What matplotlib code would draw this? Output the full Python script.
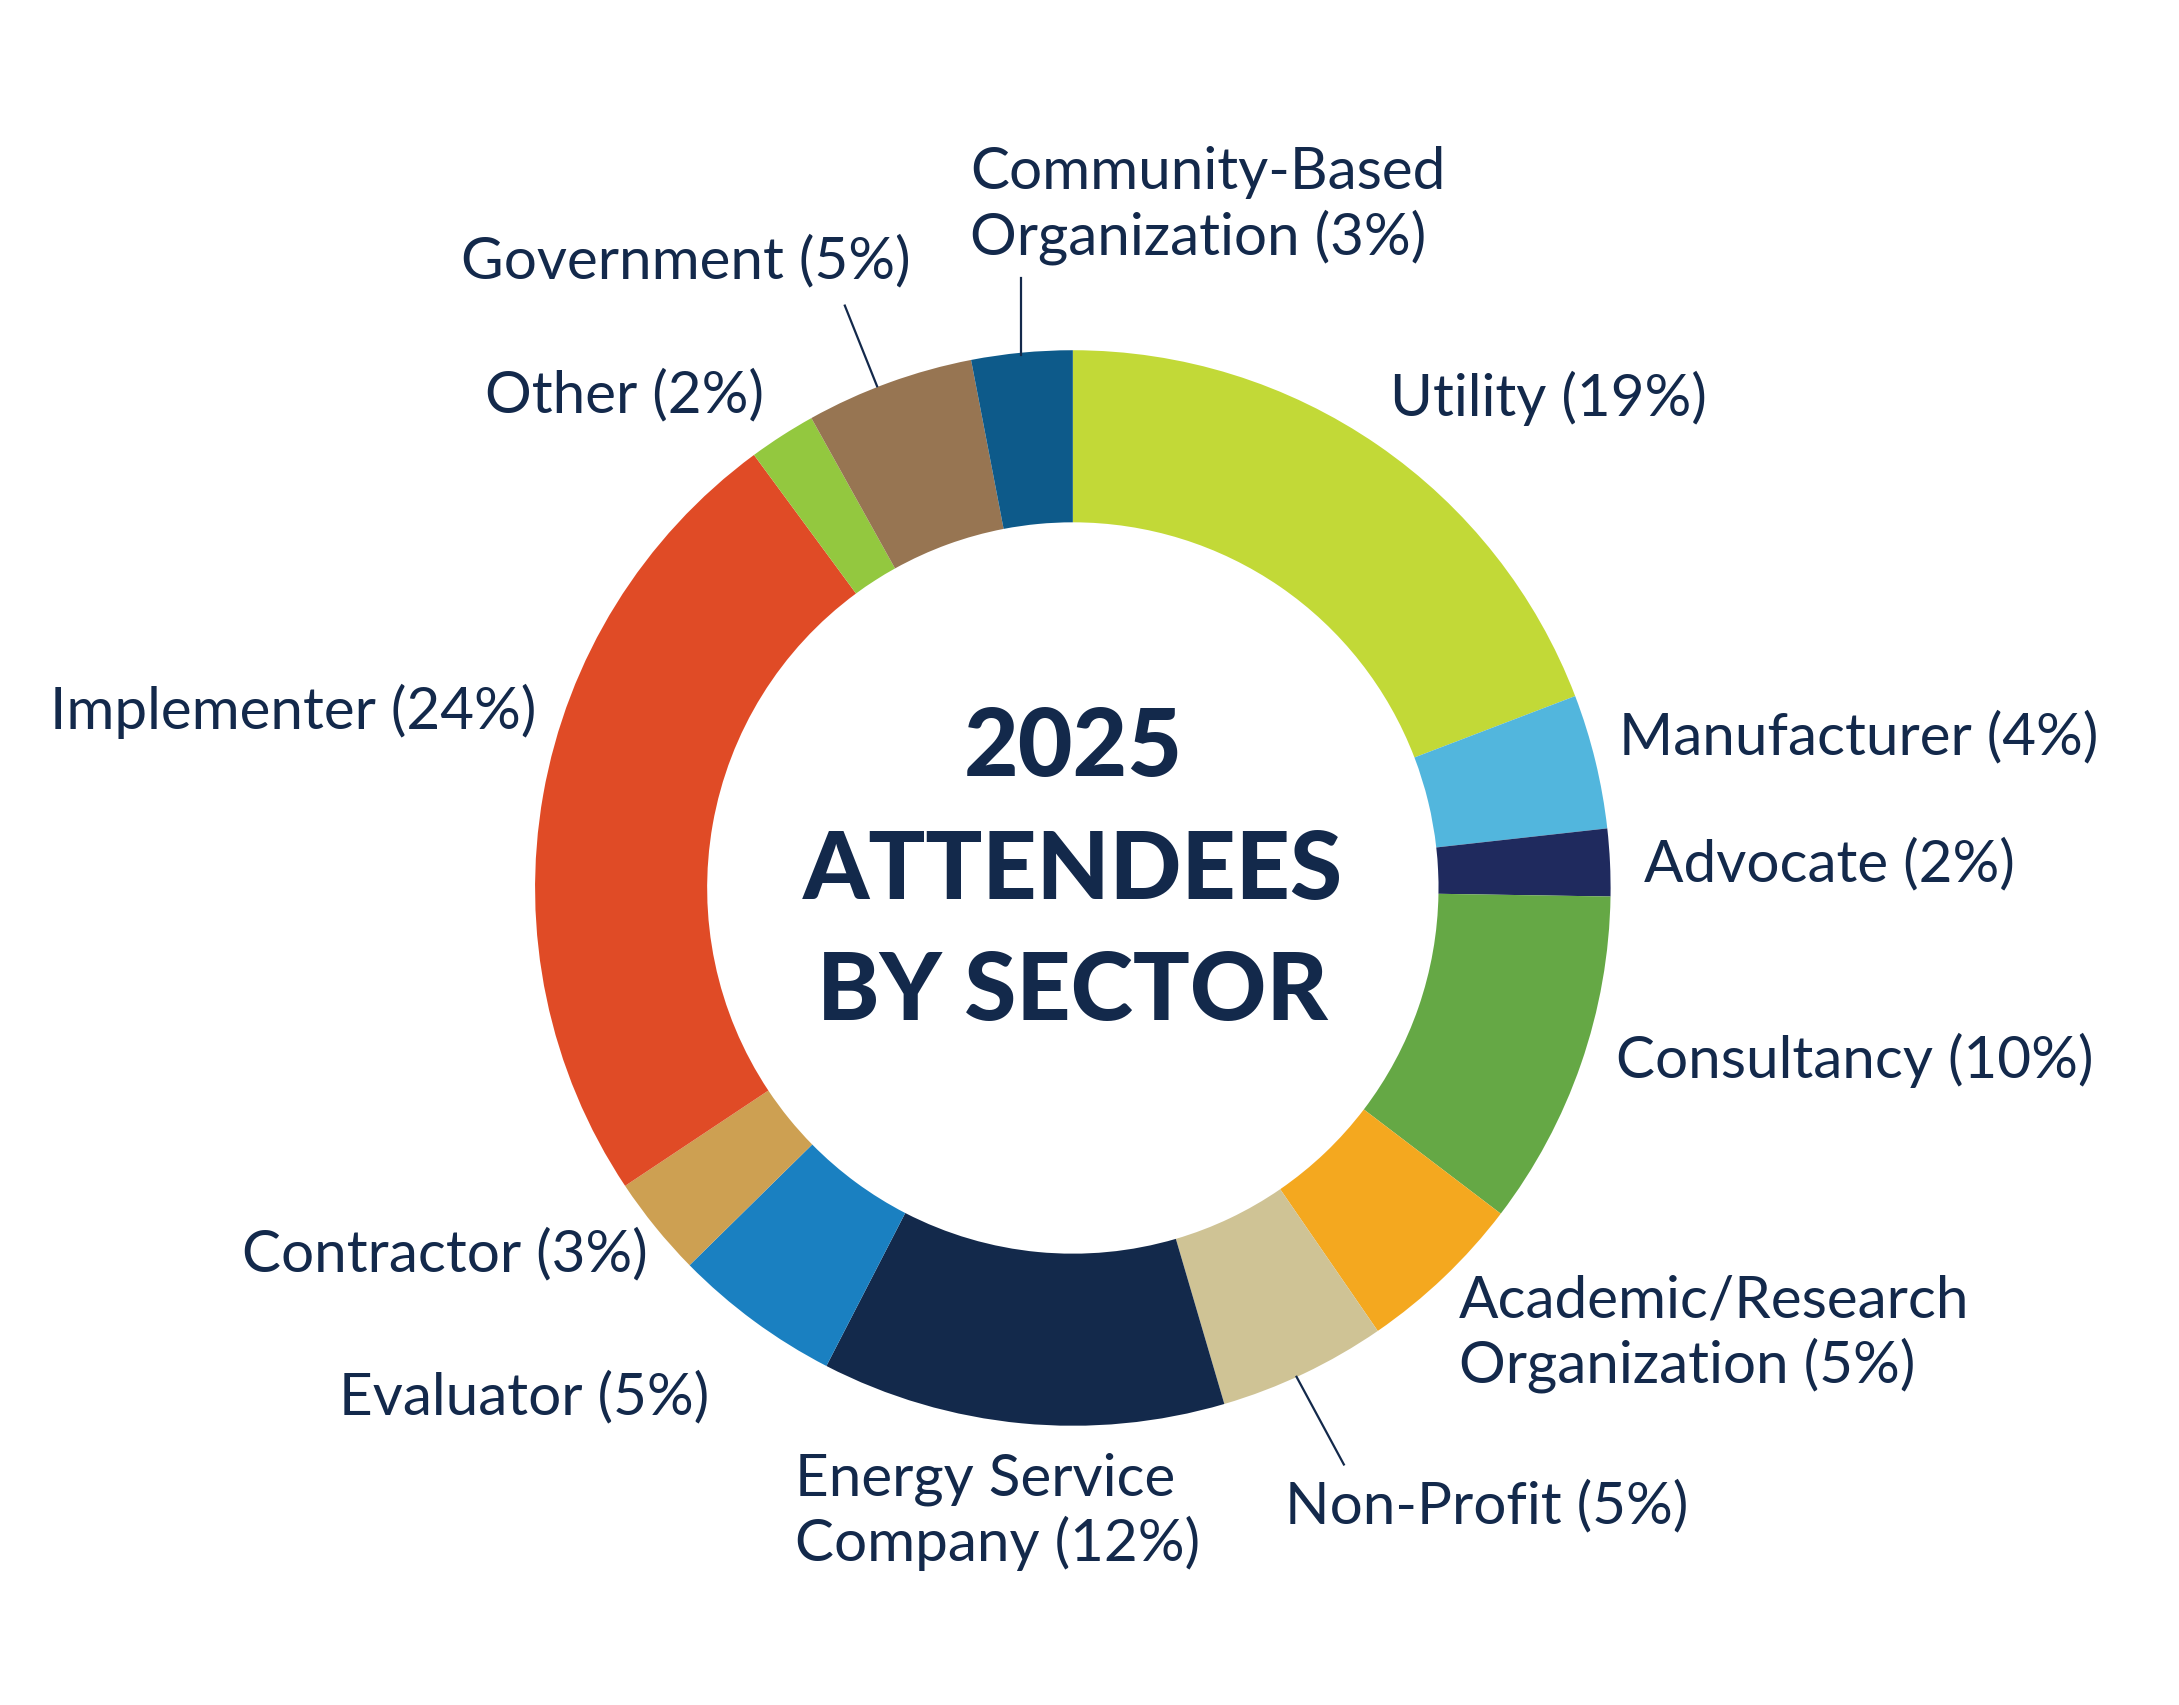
import matplotlib.pyplot as plt

# sectors, clockwise from 12 o'clock
sectors = ['Utility', 'Manufacturer', 'Advocate', 'Consultancy',
           'Academic/Research\nOrganization', 'Non-Profit',
           'Energy Service\nCompany', 'Evaluator', 'Contractor',
           'Implementer', 'Other', 'Government', 'Community-Based\nOrganization']
shares = [19, 4, 2, 10, 5, 5, 12, 5, 3, 24, 2, 5, 3]
colors = ['#C2D937', '#52B6DD', '#1F2A5E', '#65A845', '#F4A81F', '#CFC395',
          '#13294B', '#1A80C1', '#CDA052', '#E04B26', '#93C83F', '#977552', '#0D5A8A']

navy = '#13294B'

fig = plt.figure(figsize=(21.79, 17.05), dpi=100)
ax = fig.add_axes([0, 0, 1, 1])

ax.pie(shares, colors=colors, startangle=90, counterclock=False, radius=1,
       wedgeprops=dict(width=0.32, edgecolor='none'))

# pie() resets the limits, so set them afterwards
ax.set_xlim(-1.995, 2.057)
ax.set_ylim(-1.519, 1.651)
ax.set_aspect('equal')
ax.axis('off')

# label anchor (x, y, horizontal alignment) in units of outer radius
label_pos = [(0.589, 0.910, 'left'), (1.016, 0.279, 'left'), (1.062, 0.044, 'left'),
             (1.010, -0.320, 'left'), (0.718, -0.829, 'left'), (0.395, -1.150, 'left'),
             (-0.517, -1.160, 'left'), (-0.677, -0.948, 'right'), (-0.791, -0.682, 'right'),
             (-0.997, 0.328, 'right'), (-0.574, 0.915, 'right'), (-0.302, 1.165, 'right'),
             (-0.191, 1.269, 'left')]

for name, val, (x, y, ha) in zip(sectors, shares, label_pos):
    ax.text(x, y, f'{name} ({val}%)', ha=ha, va='center', fontsize=42,
            family='Lato', color=navy, linespacing=1.22)

# leader lines
for (x0, y0), (x1, y1) in [((-0.0956, 1.134), (-0.0956, 0.992)),
                           ((-0.424, 1.083), (-0.364, 0.933)),
                           ((0.416, -0.909), (0.504, -1.072))]:
    ax.plot([x0, x1], [y0, y1], color=navy, lw=1.6)

for txt, y in [('2025', 0.259), ('ATTENDEES', 0.030), ('BY SECTOR', -0.196)]:
    ax.text(0, y, txt, ha='center', va='center', fontsize=68,
            family='Lato', fontweight='black', color=navy)

fig.savefig('out.png', dpi=100, facecolor='white')
